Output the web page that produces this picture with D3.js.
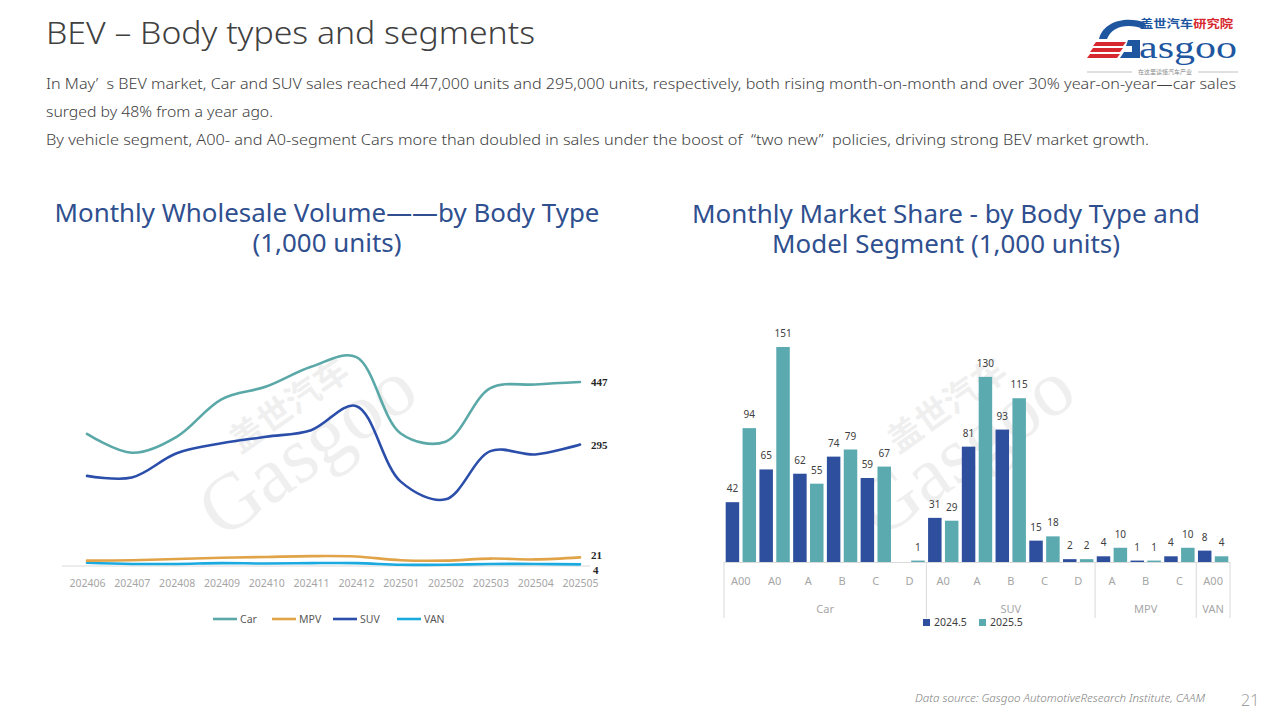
<!DOCTYPE html>
<html><head><meta charset="utf-8">
<script src="https://cdn.jsdelivr.net/npm/d3@7"></script>
<style>
html,body{margin:0;padding:0;background:#fff;}
svg{display:block;}
</style></head>
<body>
<svg id="chart" width="1280" height="720"></svg>
<script>
// ---------- DATA ----------
const months = ["202406","202407","202408","202409","202410","202411","202412","202501","202502","202503","202504","202505"];
const carVals = [321,275,314,405,436,484,508,322,302,432,441,447];
const mpvVals = [13,14,17,20,22,24,23,14,13,18,16,21];
const suvVals = [219,215,274,298,314,330,389,205,162,279,271,295];
const vanVals = [8,5,5,7,6,7,7,3,3,5,5,4];
const seriesNames = ["Car","MPV","SUV","VAN"];

const segGroups = ["Car","Car","Car","Car","Car","Car","SUV","SUV","SUV","SUV","SUV","MPV","MPV","MPV","VAN"];
const segLabels = ["A00","A0","A","B","C","D","A0","A","B","C","D","A","B","C","A00"];
const vals2024 = [42,65,62,74,59,null,31,81,93,15,2,4,1,4,8];
const vals2025 = [94,151,55,79,67,1,29,130,115,18,2,10,1,10,4];
const barSeries = ["2024.5","2025.5"];

const texts = {
  title: "BEV – Body types and segments",
  body: [
    "In May’  s BEV market, Car and SUV sales reached 447,000 units and 295,000 units, respectively, both rising month-on-month and over 30% year-on-year—car sales",
    "surged by 48% from a year ago.",
    "By vehicle segment, A00- and A0-segment Cars more than doubled in sales under the boost of  \u201Ctwo new\u201D  policies, driving strong BEV market growth."
  ],
  leftTitle: ["Monthly Wholesale Volume——by Body Type","(1,000 units)"],
  rightTitle: ["Monthly Market Share - by Body Type and","Model Segment (1,000 units)"],
  source: "Data source: Gasgoo AutomotiveResearch Institute, CAAM",
  page: "21"
};

// ---------- DRAW ----------
const svg = d3.select("#chart");
const FONT = "'Noto Sans', 'Open Sans', sans-serif";

// Title
svg.append("text").attr("x",46).attr("y",44).attr("font-family",FONT).attr("font-weight",300)
  .attr("font-size",32).attr("fill","#404040").attr("textLength",489).attr("lengthAdjust","spacingAndGlyphs").text(texts.title);

const bodyW = [1190,227,1103];
texts.body.forEach((t,i)=>{
  svg.append("text").attr("x",46).attr("y",89+i*28).attr("font-family",FONT).attr("font-weight",300)
    .attr("font-size",15).attr("fill","#404040").attr("textLength",bodyW[i]).attr("lengthAdjust","spacingAndGlyphs")
    .style("white-space","pre").text(t);
});

// Logo
const logo = svg.append("g");
[0,1,2].forEach(i=>{
  logo.append("path").attr("d",`M${1096-i*3},${42+i*6} L${1126-i*3},${42+i*6} L${1123-i*3},${46+i*6} L${1093-i*3},${46+i*6} Z`).attr("fill","#D8282F");
});
logo.append("path").attr("d","M1099,39 C1104,20 1128,16 1146,23 L1144,29 C1128,23 1112,26 1107,39 Z").attr("fill","#1F56A0");
logo.append("path").attr("d","M1128,40 L1140,40 L1140,58 L1120,58 L1124,52 L1132,52 L1132,46 L1126,46 Z").attr("fill","#1F56A0");
logo.append("text").attr("x",1139).attr("y",58).attr("font-family","'Liberation Serif', serif").attr("font-size",32)
  .attr("fill","#1F56A0").attr("textLength",98).attr("lengthAdjust","spacingAndGlyphs").text("asgoo");
const lt = logo.append("text").attr("x",1140).attr("y",28).attr("font-family","'Noto Sans CJK SC', sans-serif").attr("font-weight",700)
  .attr("font-size",11.5).attr("textLength",93).attr("lengthAdjust","spacingAndGlyphs");
lt.append("tspan").attr("fill","#1F56A0").text("盖世汽车");
lt.append("tspan").attr("fill","#D8282F").text("研究院");
logo.append("line").attr("x1",1087).attr("x2",1132).attr("y1",72).attr("y2",72).attr("stroke","#999").attr("stroke-width",0.6);
logo.append("line").attr("x1",1198).attr("x2",1238).attr("y1",72).attr("y2",72).attr("stroke","#999").attr("stroke-width",0.6);
logo.append("text").attr("x",1165).attr("y",74).attr("text-anchor","middle").attr("font-family","'Noto Sans CJK SC', sans-serif")
  .attr("font-size",6).attr("fill","#888").text("在这里读懂汽车产业");

// Footer
svg.append("text").attr("x",915).attr("y",702).attr("font-family",FONT).attr("font-style","italic").attr("font-weight",300)
  .attr("font-size",11).attr("fill","#7F7F7F").attr("textLength",290).attr("lengthAdjust","spacingAndGlyphs").text(texts.source);
svg.append("text").attr("x",1241).attr("y",706).attr("font-family",FONT).attr("font-weight",300)
  .attr("font-size",16).attr("fill","#A0A0A0").text(texts.page);

// Chart titles
const titleColor = "#2F4F8F";
const leftTW = [545,149], rightTW = [508,348];
texts.leftTitle.forEach((t,i)=>{
  svg.append("text").attr("x",327).attr("y",222+i*30).attr("text-anchor","middle").attr("font-family",FONT)
    .attr("font-size",24.5).attr("fill",titleColor).attr("textLength",leftTW[i]).attr("lengthAdjust","spacingAndGlyphs").text(t);
});
texts.rightTitle.forEach((t,i)=>{
  svg.append("text").attr("x",946).attr("y",223+i*30).attr("text-anchor","middle").attr("font-family",FONT)
    .attr("font-size",24.5).attr("fill",titleColor).attr("textLength",rightTW[i]).attr("lengthAdjust","spacingAndGlyphs").text(t);
});

// Watermarks
function watermark(cx,cy){
  const g = svg.append("g").attr("transform",`translate(${cx},${cy}) rotate(-35)`).attr("opacity",0.06);
  g.append("text").attr("x",0).attr("y",0).attr("text-anchor","middle").attr("font-family","'Liberation Serif', serif")
    .attr("font-size",80).attr("fill","#000").text("Gasgoo");
  g.append("text").attr("x",10).attr("y",-60).attr("text-anchor","middle").attr("font-family","'Noto Sans CJK SC', sans-serif")
    .attr("font-size",34).attr("font-weight",700).attr("fill","#000").text("盖世汽车");
}
watermark(322,470);
watermark(980,470);

// ---------- LEFT LINE CHART ----------
const colors = {Car:"#5BA8A8", MPV:"#E0A347", SUV:"#2A4EAA", VAN:"#1AAAE0"};
const dataBySeries = {Car:carVals, MPV:mpvVals, SUV:suvVals, VAN:vanVals};
const x = d3.scalePoint().domain(months).range([87,580]);
const y = d3.scaleLinear().domain([0,500]).range([566,360.2]);

const left = svg.append("g");
left.append("line").attr("x1",62).attr("x2",590).attr("y1",y(0)).attr("y2",y(0)).attr("stroke","#D9D9D9").attr("stroke-width",1);

const xAxis = d3.axisBottom(x).tickSize(0).tickPadding(14);
const xa = left.append("g").attr("transform",`translate(0,${y(0)})`).call(xAxis);
xa.select(".domain").remove();
xa.selectAll("text").attr("font-family",FONT).attr("font-size",10.5).attr("fill","#A6A6A6");

const line = d3.line().x((d,i)=>x(months[i])).y(d=>y(d)).curve(d3.curveCatmullRom.alpha(0.5));
["VAN","MPV","SUV","Car"].forEach(s=>{
  left.append("path").datum(dataBySeries[s]).attr("d",line).attr("fill","none")
    .attr("stroke",colors[s]).attr("stroke-width",2.6).attr("stroke-linecap","round");
});
seriesNames.forEach(s=>{
  const v = dataBySeries[s][months.length-1];
  const yy = y(v) + (s==="VAN" ? 9.5 : (s==="MPV" ? 2 : 4));
  left.append("text").attr("x",x(months[months.length-1])+(s==="VAN"?13:11)).attr("y",yy).attr("font-family","'Liberation Serif', serif")
    .attr("font-weight",700).attr("font-size",11).attr("fill","#262626").text(v);
});
// legend
const legX = [213,272,333,397];
seriesNames.forEach((s,i)=>{
  left.append("line").attr("x1",legX[i]).attr("x2",legX[i]+24).attr("y1",619).attr("y2",619).attr("stroke",colors[s]).attr("stroke-width",2.6);
  left.append("text").attr("x",legX[i]+27).attr("y",623).attr("font-family",FONT).attr("font-size",10.5).attr("fill","#595959").text(s);
});

// ---------- RIGHT BAR CHART ----------
const barColors = {"2024.5":"#2E4F9E","2025.5":"#5BAAB0"};
const keys = segLabels.map((d,i)=>i);
const xb = d3.scaleBand().domain(keys).range([724,1230]).paddingInner(0).paddingOuter(0);
const xs = d3.scaleBand().domain(barSeries).range([0,xb.bandwidth()]).paddingInner(0.2).paddingOuter(0.1);
const yb = d3.scaleLinear().domain([0,160]).range([562,562-160*1.424]);

const right = svg.append("g");
const seriesVals = {"2024.5":vals2024,"2025.5":vals2025};
barSeries.forEach(s=>{
  seriesVals[s].forEach((v,i)=>{
    if(v===null) return;
    const bx = xb(i)+xs(s);
    right.append("rect").attr("x",bx).attr("width",xs.bandwidth()).attr("y",yb(v)).attr("height",yb(0)-yb(v)).attr("fill",barColors[s]);
    right.append("text").attr("x",bx+xs.bandwidth()/2).attr("y",yb(v)-10).attr("text-anchor","middle")
      .attr("font-family",FONT).attr("font-size",10).attr("fill","#404040").text(v);
  });
});
right.append("line").attr("x1",724).attr("x2",1230).attr("y1",yb(0)+0.5).attr("y2",yb(0)+0.5).attr("stroke","#D9D9D9");
// category labels
segLabels.forEach((l,i)=>{
  right.append("text").attr("x",xb(i)+xb.bandwidth()/2).attr("y",585).attr("text-anchor","middle")
    .attr("font-family",FONT).attr("font-size",11).attr("fill","#A6A6A6").text(l);
});
// group separators & labels
const groups = [];
segGroups.forEach((g,i)=>{
  if(!groups.length || groups[groups.length-1].name!==g) groups.push({name:g,start:i,end:i});
  else groups[groups.length-1].end=i;
});
const bounds = [xb(0)];
groups.forEach(g=>bounds.push(xb(g.end)+xb.bandwidth()));
bounds.forEach(b=>{
  right.append("line").attr("x1",b).attr("x2",b).attr("y1",yb(0)).attr("y2",618).attr("stroke","#D9D9D9");
});
groups.forEach(g=>{
  const cx = (xb(g.start)+xb(g.end)+xb.bandwidth())/2;
  right.append("text").attr("x",cx).attr("y",613).attr("text-anchor","middle")
    .attr("font-family",FONT).attr("font-size",11).attr("fill","#A6A6A6").text(g.name);
});
// legend
const blx = [923,979];
barSeries.forEach((s,i)=>{
  right.append("rect").attr("x",blx[i]).attr("y",619).attr("width",7).attr("height",7).attr("fill",barColors[s]);
  right.append("text").attr("x",blx[i]+11).attr("y",626).attr("font-family",FONT).attr("font-size",10.5).attr("fill","#404040").text(s);
});
</script>
</body></html>
